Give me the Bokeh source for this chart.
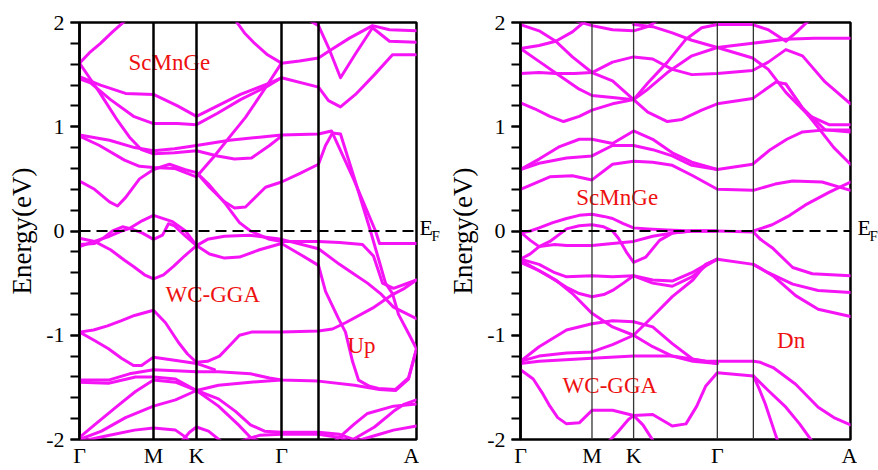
from bokeh.plotting import figure
from bokeh.layouts import row
from bokeh.models import Range1d, FixedTicker, SingleIntervalTicker, Span
from bokeh.core.properties import value
from bokeh.embed import file_html
from bokeh.resources import INLINE

# ---------------------------------------------------------------
# High-symmetry path (Γ-M-K-Γ-·-A) positions along k, per panel
# ---------------------------------------------------------------
UP_KPTS = [0.0, 0.74, 1.17, 2.02, 2.39, 3.37]
DN_KPTS = [0.0, 0.73, 1.155, 2.01, 2.378, 3.37]
K_LABELS = ["Γ", "M", "K", "Γ", "", "A"]

# ---------------------------------------------------------------
# Spin-up bands: (k, E - E_F in eV)
# ---------------------------------------------------------------
up_01 = [(0, 1.61), (0.1, 1.71), (0.21, 1.80), (0.33, 1.91), (0.46, 2.02)]
up_02 = [(1.56, 2.02), (1.65, 1.90), (1.74, 1.81), (1.88, 1.69), (2.02, 1.61), (2.2, 1.63), (2.39, 1.66),
         (2.5, 1.73), (2.7, 1.85), (2.93, 1.97), (3.1, 1.93), (3.37, 1.92)]
up_03 = [(2.30, 2.02), (2.39, 1.97), (2.49, 1.76), (2.61, 1.47), (2.76, 1.70), (2.93, 1.95), (3.1, 1.82),
         (3.37, 1.81)]
up_04 = [(2.02, 1.47), (2.39, 1.38), (2.49, 1.25), (2.61, 1.19), (2.76, 1.31), (2.95, 1.50), (3.13, 1.69),
         (3.37, 1.69)]
up_05 = [(0, 1.48), (0.21, 1.40), (0.46, 1.32), (0.74, 1.31), (0.98, 1.20), (1.17, 1.10), (1.38, 1.20),
         (1.61, 1.31), (1.88, 1.41), (2.02, 1.47)]
up_06 = [(0, 1.46), (0.11, 1.42), (0.31, 1.26), (0.54, 1.10), (0.74, 1.03), (0.98, 1.03), (1.17, 1.02),
         (1.38, 1.13), (1.61, 1.26), (1.88, 1.39), (2.02, 1.47)]
up_07 = [(0, 1.61), (0.1, 1.47), (0.2, 1.33), (0.38, 1.06), (0.5, 0.90), (0.62, 0.78), (0.74, 0.74),
         (0.95, 0.75), (1.17, 0.77), (1.38, 0.72), (1.55, 0.69), (1.72, 0.70), (1.9, 0.82), (2.02, 0.91)]
up_08 = [(0, 0.92), (0.3, 0.87), (0.55, 0.80), (0.74, 0.77), (0.95, 0.79), (1.17, 0.82), (1.5, 0.87),
         (1.8, 0.90), (2.02, 0.92), (2.39, 0.93), (2.52, 0.96), (2.74, 0.50), (2.96, 0.0), (3.0, -0.12),
         (3.37, -0.12)]
up_09 = [(0, 0.91), (0.2, 0.82), (0.45, 0.68), (0.6, 0.62), (0.74, 0.61), (0.95, 0.60), (1.17, 0.52),
         (1.35, 0.72), (1.5, 0.90), (1.66, 1.09), (1.85, 1.36), (2.02, 1.61)]
up_10 = [(0, 0.48), (0.15, 0.40), (0.3, 0.28), (0.38, 0.24), (0.46, 0.32), (0.6, 0.50), (0.74, 0.59),
         (0.9, 0.64), (1.05, 0.59), (1.17, 0.56), (1.3, 0.42), (1.45, 0.28), (1.55, 0.22), (1.66, 0.23),
         (1.86, 0.42), (2.02, 0.47), (2.2, 0.55), (2.39, 0.64), (2.46, 0.82), (2.53, 0.94), (2.61, 0.93),
         (2.76, 0.47), (2.91, 0.0), (3.0, -0.3), (3.06, -0.5), (3.13, -0.6), (3.19, -0.8), (3.3, -1.0),
         (3.37, -1.13)]
up_11 = [(1.17, 0.56), (1.29, 0.45), (1.46, 0.26), (1.6, 0.08), (1.71, 0.0), (1.9, -0.08), (2.02, -0.10),
         (2.39, -0.10), (2.6, -0.11), (2.83, -0.13), (2.94, -0.24), (3.03, -0.50), (3.14, -0.55),
         (3.37, -0.47)]
up_12 = [(0, -0.07), (0.15, -0.10), (0.31, -0.18), (0.45, -0.28), (0.54, -0.34), (0.65, -0.42), (0.74, -0.46),
         (0.84, -0.42), (0.94, -0.34), (1.05, -0.24), (1.17, -0.14), (1.28, -0.08), (1.45, -0.05),
         (1.7, -0.04), (2.02, -0.08), (2.39, -0.17), (2.6, -0.32), (2.74, -0.41), (2.88, -0.50),
         (3.01, -0.60), (3.14, -0.73), (3.37, -0.84)]
up_13 = [(0, -0.15), (0.15, -0.10), (0.3, -0.05), (0.42, 0.0), (0.49, 0.02), (0.63, 0.10), (0.74, 0.15),
         (0.93, 0.09), (1.06, 0.0), (1.17, -0.14), (1.3, -0.22), (1.45, -0.26), (1.6, -0.25), (1.8, -0.18),
         (2.02, -0.12), (2.2, -0.22), (2.39, -0.33), (2.46, -0.58), (2.59, -0.84), (2.66, -0.97),
         (2.73, -1.25), (2.79, -1.43), (2.9, -1.49), (2.99, -1.51), (3.16, -1.52), (3.29, -1.41),
         (3.37, -1.13)]
up_14 = [(0, -0.13), (0.15, -0.12), (0.25, -0.06), (0.33, 0.0), (0.43, 0.04), (0.52, 0.02), (0.63, -0.02),
         (0.74, -0.08), (0.83, -0.04), (0.89, 0.07), (0.95, 0.05), (1.06, -0.05), (1.17, -0.14)]
up_15 = [(0, -0.97), (0.14, -0.95), (0.28, -0.91), (0.42, -0.86), (0.55, -0.81), (0.74, -0.76), (0.86, -0.88),
         (0.99, -1.07), (1.08, -1.18), (1.17, -1.26), (1.28, -1.25), (1.4, -1.20), (1.5, -1.10), (1.6, -1.0),
         (1.72, -0.97), (2.02, -0.97), (2.39, -0.96), (2.53, -0.94), (2.66, -0.88), (2.93, -0.74),
         (3.13, -0.61), (3.25, -0.55), (3.37, -0.47)]
up_16 = [(0, -0.97), (0.15, -1.05), (0.29, -1.13), (0.42, -1.22), (0.54, -1.29), (0.62, -1.29), (0.74, -1.21),
         (0.95, -1.24), (1.17, -1.27), (1.35, -1.33)]
up_17 = [(0, -1.43), (0.29, -1.43), (0.5, -1.37), (0.74, -1.33), (0.96, -1.34), (1.17, -1.35), (1.39, -1.35),
         (1.71, -1.37), (1.9, -1.41), (2.02, -1.43), (2.39, -1.44), (2.75, -1.48), (3.0, -1.52),
         (3.16, -1.53), (3.29, -1.42), (3.37, -1.13)]
up_18 = [(0, -1.45), (0.29, -1.46), (0.56, -1.40), (0.74, -1.40), (0.96, -1.42), (1.17, -1.53), (1.39, -1.48),
         (1.71, -1.45), (2.02, -1.43)]
up_19 = [(0, -1.98), (0.15, -1.86), (0.39, -1.67), (0.56, -1.54), (0.74, -1.43), (0.96, -1.45), (1.17, -1.53),
         (1.39, -1.61), (1.56, -1.73), (1.71, -1.86), (1.85, -1.92), (2.02, -1.93), (2.39, -1.93),
         (2.6, -1.95), (2.8, -2.02)]
up_20 = [(0, -2.0), (0.22, -1.92), (0.46, -1.79), (0.74, -1.68), (0.96, -1.62), (1.17, -1.53), (1.39, -1.68),
         (1.59, -1.86), (1.71, -1.98), (1.8, -2.02)]
up_21 = [(0, -2.02), (0.3, -1.96), (0.55, -1.91), (0.74, -1.89), (0.96, -1.91), (1.05, -1.97), (1.1, -2.02)]
up_22 = [(1.02, -2.02), (1.1, -1.93), (1.17, -1.88), (1.29, -1.92), (1.42, -2.02)]
up_23 = [(1.6, -2.02), (1.8, -1.96), (2.02, -1.95), (2.39, -1.95), (2.6, -1.98), (2.7, -2.02)]
up_24 = [(2.75, -2.02), (3.0, -1.95), (3.14, -1.91), (3.37, -1.87)]
up_25 = [(2.55, -2.02), (2.75, -1.85), (2.88, -1.75), (3.14, -1.68), (3.37, -1.66)]
up_26 = [(2.7, -2.02), (2.95, -1.88), (3.14, -1.73), (3.25, -1.66), (3.37, -1.62)]

UP_BANDS = [up_01, up_02, up_03, up_04, up_05, up_06, up_07, up_08, up_09, up_10, up_11, up_12, up_13,
            up_14, up_15, up_16, up_17, up_18, up_19, up_20, up_21, up_22, up_23, up_24, up_25, up_26]

# ---------------------------------------------------------------
# Spin-down bands: (k, E - E_F in eV)
# ---------------------------------------------------------------
dn_01 = [(0, 1.98), (0.19, 1.92), (0.36, 1.82), (0.53, 1.67), (0.73, 1.52), (0.94, 1.44), (1.155, 1.26),
         (1.3, 1.42), (1.5, 1.62), (1.69, 1.84), (1.85, 1.95), (2.01, 1.98), (2.37, 1.98), (2.53, 1.93),
         (2.71, 1.82), (2.81, 1.90), (2.91, 1.99), (2.95, 2.02)]
dn_02 = [(0, 1.51), (0.19, 1.52), (0.36, 1.51), (0.55, 1.51), (0.73, 1.52), (0.94, 1.62), (1.155, 1.67),
         (1.35, 1.65), (1.55, 1.55), (1.75, 1.50), (2.01, 1.51), (2.37, 1.54), (2.53, 1.62), (2.71, 1.74),
         (2.88, 1.68), (3.11, 1.43), (3.37, 1.22)]
dn_03 = [(0, 1.75), (0.19, 1.78), (0.36, 1.82), (0.53, 1.91), (0.67, 2.02)]
dn_04 = [(0, 1.75), (0.2, 1.62), (0.4, 1.49), (0.6, 1.36), (0.73, 1.30), (0.94, 1.28), (1.155, 1.26),
         (1.3, 1.36), (1.5, 1.52), (1.75, 1.68), (2.01, 1.76), (2.37, 1.80), (2.7, 1.84), (3.0, 1.85),
         (3.37, 1.85)]
dn_05 = [(0, 1.23), (0.15, 1.17), (0.3, 1.10), (0.44, 1.05), (0.6, 1.10), (0.73, 1.16), (0.94, 1.22),
         (1.155, 1.26), (1.3, 1.14), (1.5, 1.05), (1.65, 1.07), (1.85, 1.16), (2.01, 1.22), (2.37, 1.27),
         (2.61, 1.43), (2.71, 1.41), (2.88, 1.18), (3.05, 0.98), (3.2, 0.80), (3.37, 0.64)]
dn_06 = [(2.71, 1.41), (2.88, 1.18), (3.11, 0.97), (3.37, 0.95)]
dn_07 = [(1.155, 1.98), (1.35, 1.96), (1.55, 1.90), (1.75, 1.83), (2.01, 1.76), (2.37, 1.66), (2.53, 1.55),
         (2.71, 1.33), (2.94, 1.11), (3.15, 1.02), (3.37, 1.02)]
dn_08 = [(0.55, 2.02), (0.73, 1.97), (0.94, 1.93), (1.155, 1.92), (1.3, 1.96), (1.4, 2.02)]
dn_09 = [(0, 0.59), (0.19, 0.69), (0.4, 0.81), (0.6, 0.88), (0.73, 0.88), (0.94, 0.84), (1.155, 0.96),
         (1.35, 0.88), (1.55, 0.75), (1.75, 0.66), (2.01, 0.59), (2.37, 0.64), (2.55, 0.78), (2.72, 0.88),
         (2.88, 0.95), (3.11, 0.97), (3.37, 0.97)]
dn_10 = [(0, 0.59), (0.19, 0.65), (0.47, 0.70), (0.73, 0.72), (0.94, 0.82), (1.155, 0.82), (1.35, 0.78),
         (1.55, 0.72), (1.75, 0.63), (2.01, 0.59)]
dn_11 = [(0, 0.40), (0.3, 0.52), (0.53, 0.53), (0.73, 0.49), (0.94, 0.64), (1.155, 0.67), (1.35, 0.66),
         (1.55, 0.63), (1.76, 0.53), (2.01, 0.40), (2.378, 0.39), (2.6, 0.45), (2.78, 0.48), (3.08, 0.47),
         (3.37, 0.39)]
dn_12 = [(2.378, 0.0), (2.57, 0.06), (2.75, 0.15), (2.91, 0.25), (3.15, 0.37), (3.37, 0.47)]
dn_13 = [(0, -0.02), (0.1, 0.0), (0.19, 0.03), (0.33, 0.08), (0.47, 0.12), (0.6, 0.15), (0.73, 0.16),
         (0.85, 0.14), (0.94, 0.12), (1.05, 0.07), (1.155, 0.03), (1.3, 0.02), (1.5, 0.01), (1.75, 0.0),
         (2.01, 0.0), (2.378, -0.01), (2.45, -0.08), (2.57, -0.16), (2.78, -0.35), (2.98, -0.41),
         (3.37, -0.43)]
dn_14 = [(0, -0.27), (0.1, -0.22), (0.19, -0.15), (0.35, -0.13), (0.47, -0.14), (0.73, -0.14), (0.94, -0.12),
         (1.155, -0.10), (1.35, -0.05), (1.55, -0.02), (1.75, 0.0), (2.01, 0.0)]
dn_15 = [(0, -0.01), (0.1, -0.09), (0.19, -0.15), (0.3, -0.10), (0.4, -0.03), (0.47, 0.02), (0.6, 0.05),
         (0.73, 0.06), (0.85, 0.04), (0.94, 0.0), (1.0, -0.07), (1.08, -0.2), (1.155, -0.30), (1.28, -0.25),
         (1.42, -0.09), (1.55, -0.02), (1.75, 0.0), (2.01, 0.0)]
dn_16 = [(0, -0.27), (0.19, -0.32), (0.35, -0.40), (0.47, -0.44), (0.73, -0.43), (0.94, -0.44),
         (1.155, -0.43), (1.35, -0.47), (1.55, -0.48), (1.75, -0.40), (1.9, -0.32), (2.01, -0.27)]
dn_17 = [(0, -0.28), (0.15, -0.36), (0.30, -0.44), (0.47, -0.54), (0.6, -0.60), (0.73, -0.63), (0.85, -0.61),
         (0.94, -0.57), (1.05, -0.50), (1.155, -0.43), (1.35, -0.50), (1.55, -0.53), (1.75, -0.44),
         (1.9, -0.33), (2.01, -0.27)]
dn_18 = [(0, -0.30), (0.19, -0.38), (0.36, -0.47), (0.53, -0.60), (0.73, -0.79), (0.94, -0.92),
         (1.155, -1.0), (1.35, -1.11), (1.55, -1.20), (1.76, -1.25), (2.01, -1.27)]
dn_19 = [(0, -1.25), (0.19, -1.11), (0.47, -0.95), (0.73, -0.89), (0.94, -0.86), (1.155, -0.87),
         (1.35, -0.92), (1.55, -1.08), (1.76, -1.23), (2.01, -1.27)]
dn_20 = [(0, -1.25), (0.19, -1.20), (0.47, -1.17), (0.73, -1.16), (0.94, -1.09), (1.155, -1.0), (1.35, -0.82),
         (1.55, -0.63), (1.76, -0.47), (1.89, -0.32), (2.01, -0.27)]
dn_21 = [(0, -1.27), (0.19, -1.25), (0.73, -1.22), (1.155, -1.20), (1.55, -1.20), (1.9, -1.25), (2.01, -1.25),
         (2.378, -1.25), (2.45, -1.26), (2.58, -1.31), (2.81, -1.47), (3.04, -1.69), (3.2, -1.79),
         (3.37, -1.86)]
dn_22 = [(0, -1.33), (0.13, -1.42), (0.22, -1.55), (0.30, -1.68), (0.38, -1.79), (0.47, -1.85), (0.6, -1.84),
         (0.73, -1.72), (0.94, -1.72), (1.155, -1.77), (1.35, -1.76), (1.55, -1.87), (1.69, -1.85),
         (1.8, -1.68), (1.89, -1.49), (2.01, -1.36), (2.378, -1.39), (2.53, -1.53), (2.71, -1.69),
         (2.85, -1.85), (2.98, -2.02)]
dn_23 = [(2.378, -1.39), (2.44, -1.52), (2.5, -1.66), (2.61, -1.97), (2.63, -2.02)]
dn_24 = [(0.9, -2.02), (1.0, -1.92), (1.1, -1.81), (1.155, -1.77), (1.25, -1.86), (1.36, -2.02)]
dn_25 = [(2.01, -0.27), (2.378, -0.32), (2.53, -0.40), (2.78, -0.51), (3.04, -0.57), (3.37, -0.59)]
dn_26 = [(2.378, -0.32), (2.58, -0.43), (2.81, -0.62), (3.04, -0.75), (3.37, -0.82)]

DN_BANDS = [dn_01, dn_02, dn_03, dn_04, dn_05, dn_06, dn_07, dn_08, dn_09, dn_10, dn_11, dn_12, dn_13,
            dn_14, dn_15, dn_16, dn_17, dn_18, dn_19, dn_20, dn_21, dn_22, dn_23, dn_24, dn_25, dn_26]

# Annotations inside each panel: (text, k, E at text baseline)
UP_NOTES = [("ScMnGe", 0.49, 1.55), ("WC-GGA", 0.86, -0.68), ("Up", 2.68, -1.17)]
DN_NOTES = [("ScMnGe", 0.57, 0.25), ("WC-GGA", 0.43, -1.55), ("Dn", 2.62, -1.12)]

BAND_COLOR = "#f514f5"
NOTE_COLOR = "#ee1111"
SERIF = "Liberation Serif"
HEIGHT = 470


def band_panel(bands, kpts, notes, width, border, sym_width, sym_color):
    left, right, top, bottom = border
    p = figure(width=width, height=HEIGHT, x_range=Range1d(0, kpts[-1]), y_range=Range1d(-2, 2),
               output_backend="svg", toolbar_location=None,
               min_border_left=left, min_border_right=right,
               min_border_top=top, min_border_bottom=bottom)
    p.grid.visible = False
    p.outline_line_color = "black"
    p.outline_line_width = 2.5
    p.background_fill_color = "white"
    p.border_fill_color = "white"

    # vertical markers at the interior high-symmetry points
    for k in kpts[1:-1]:
        p.add_layout(Span(location=k, dimension="height", line_color=sym_color, line_width=sym_width))
    # Fermi level
    p.add_layout(Span(location=0, dimension="width", line_color="black", line_width=2.2, line_dash="11 6"))

    for b in bands:
        p.line([k for k, _ in b], [e for _, e in b], line_color=BAND_COLOR, line_width=3,
               line_join="round", line_cap="round")

    # x axis: symmetry-point labels, no ticks
    xa = p.xaxis[0]
    shown = [i for i, lab in enumerate(K_LABELS) if lab]
    xa.ticker = FixedTicker(ticks=[kpts[i] for i in shown])
    xa.major_label_overrides = {kpts[i]: K_LABELS[i] for i in shown}
    xa.major_tick_out = 0
    xa.major_tick_in = 0
    xa.minor_tick_out = 0
    xa.minor_tick_in = 0
    xa.axis_line_color = None
    xa.major_label_standoff = 3
    xa.major_label_text_font = SERIF
    xa.major_label_text_font_size = "22px"
    xa.major_label_text_color = "black"

    # y axis: energy with minor ticks every 0.2 eV
    ya = p.yaxis[0]
    ya.ticker = SingleIntervalTicker(interval=1, num_minor_ticks=5)
    ya.major_label_overrides = {-2: "-2", -1: "-1", 0: "0", 1: "1", 2: "2"}
    ya.major_tick_out = 9
    ya.major_tick_in = 0
    ya.minor_tick_out = 9
    ya.minor_tick_in = 0
    ya.major_tick_line_width = 2
    ya.minor_tick_line_width = 2
    ya.axis_line_width = 2.5
    ya.major_label_standoff = 6
    ya.major_label_text_font = SERIF
    ya.major_label_text_font_size = "22px"
    ya.major_label_text_color = "black"
    ya.axis_label = "Energy(eV)"
    ya.axis_label_text_font = SERIF
    ya.axis_label_text_font_size = "27px"
    ya.axis_label_text_font_style = "normal"
    ya.axis_label_text_color = "black"
    ya.axis_label_standoff = 6

    p.text(x=[n[1] for n in notes], y=[n[2] for n in notes], text=[n[0] for n in notes],
           y_offset=-7, text_font=value(SERIF), text_font_size="23px", text_color=NOTE_COLOR,
           text_baseline="alphabetic", text_align="left")
    return p


def fermi_tag(width, border_top, border_bottom):
    """Narrow strip to the right of a panel carrying the E_F marker at E = 0."""
    t = figure(width=width, height=HEIGHT, x_range=Range1d(0, width), y_range=Range1d(-2, 2),
               output_backend="svg", toolbar_location=None, x_axis_location=None, y_axis_location=None,
               min_border_left=0, min_border_right=0,
               min_border_top=border_top, min_border_bottom=border_bottom)
    t.grid.visible = False
    t.outline_line_color = None
    t.background_fill_color = "white"
    t.border_fill_color = "white"
    t.text(x=[0], y=[0], text=["E"], y_offset=-4, text_font=value(SERIF), text_font_size="22px",
           text_color="black", text_baseline="alphabetic", text_align="left")
    t.text(x=[12], y=[0], text=["F"], y_offset=5, text_font=value(SERIF), text_font_size="15px",
           text_color="black", text_baseline="alphabetic", text_align="left")
    return t


p_up = band_panel(UP_BANDS, UP_KPTS, UP_NOTES, 419, (79, 3, 22, 27), 2.5, "black")
tag_up = fermi_tag(26, 22, 27)
p_dn = band_panel(DN_BANDS, DN_KPTS, DN_NOTES, 412, (74, 7, 18, 29), 1.3, "#333333")
tag_dn = fermi_tag(21, 18, 29)

layout = row(p_up, tag_up, p_dn, tag_dn, spacing=0)
open("out.html", "w").write(file_html(layout, INLINE))
